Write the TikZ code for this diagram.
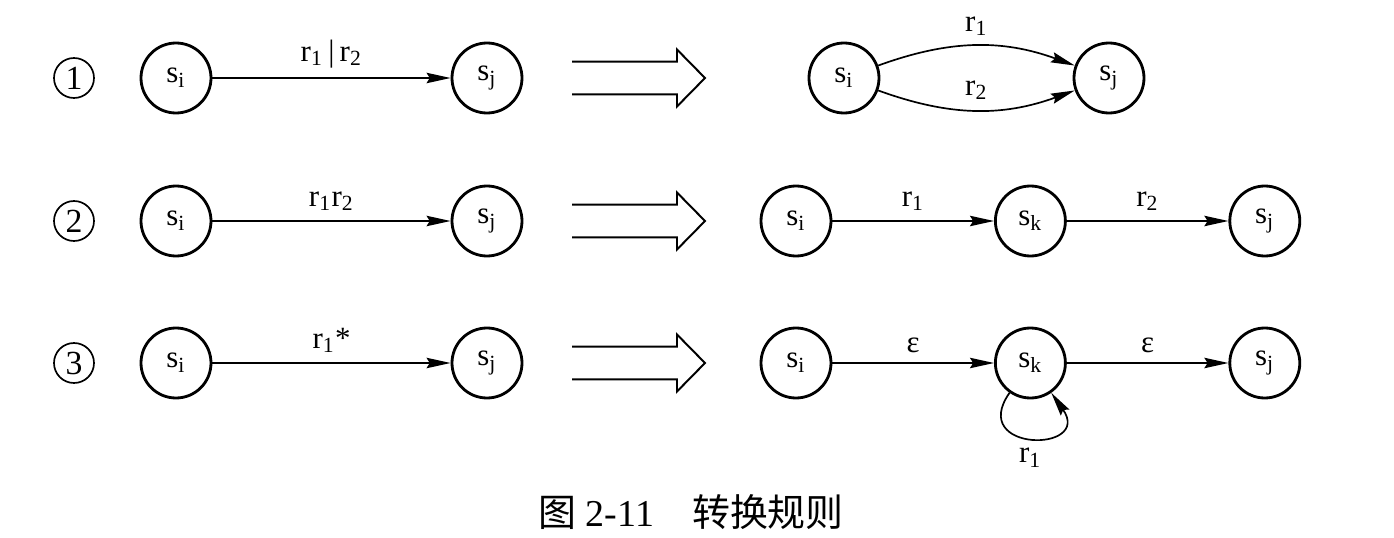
\documentclass[tikz,border=0pt]{standalone}
\usepackage{fontspec}
\setmainfont{Liberation Serif}
\newfontfamily\cjk{Noto Sans CJK SC}
\usetikzlibrary{automata,positioning,arrows.meta}

\begin{document}
\begin{tikzpicture}[->,>={Stealth[length=3mm,width=1.3mm,inset=0.4mm]},shorten >=0pt,auto,node distance=2.93cm,
  every state/.style={line width=1pt,minimum size=0.875cm,inner sep=0pt,font=\fontsize{11}{12}\selectfont},
  num/.style={circle,draw,line width=0.6pt,minimum size=0.5cm,inner sep=0pt,font=\fontsize{12}{12}\selectfont},
  every edge/.style={draw,line width=0.6pt,font=\fontsize{11}{12}\selectfont}]
  \useasboundingbox (0,0) rectangle (17.425,-6.725);

  % left column
  \node[num]   (n1) at (0.925,-0.975) {1};
  \node[num]   (n2) at (0.925,-2.7625) {2};
  \node[num]   (n3) at (0.925,-4.5375) {3};
  \node[state] (i1) [right of=n1,node distance=1.275cm] {s\textsubscript{i}};
  \node[state] (j1) [right of=i1,node distance=3.8875cm] {s\textsubscript{j}};
  \node[state] (i2) [right of=n2,node distance=1.275cm] {s\textsubscript{i}};
  \node[state] (j2) [right of=i2,node distance=3.8875cm] {s\textsubscript{j}};
  \node[state] (i3) [right of=n3,node distance=1.275cm] {s\textsubscript{i}};
  \node[state] (j3) [right of=i3,node distance=3.8875cm] {s\textsubscript{j}};

  % right column
  \node[state] (ri1) at (10.55,-0.975) {s\textsubscript{i}};
  \node[state] (rj1) [right of=ri1,node distance=3.3125cm] {s\textsubscript{j}};
  \node[state] (ri2) at (9.95,-2.7625) {s\textsubscript{i}};
  \node[state] (rk2) [right of=ri2] {s\textsubscript{k}};
  \node[state] (rj2) [right of=rk2] {s\textsubscript{j}};
  \node[state] (ri3) at (9.95,-4.5375) {s\textsubscript{i}};
  \node[state] (rk3) [right of=ri3] {s\textsubscript{k}};
  \node[state] (rj3) [right of=rk3] {s\textsubscript{j}};

  \path (i1) edge node {r\textsubscript{1}\,|\,r\textsubscript{2}} (j1)
        (i2) edge node {r\textsubscript{1}r\textsubscript{2}} (j2)
        (i3) edge node {r\textsubscript{1}*} (j3);

  \path (ri1) edge [out=20,in=160] node {r\textsubscript{1}} (rj1)
              edge [out=-20,in=-160] node {r\textsubscript{2}} (rj1)
        (ri2) edge node {r\textsubscript{1}} (rk2)
        (rk2) edge node {r\textsubscript{2}} (rj2)
        (ri3) edge node {ε} (rk3)
        (rk3) edge node {ε} (rj3)
              edge [out=235,in=305,looseness=4.5] node[below] {r\textsubscript{1}} (rk3);

  % hollow arrows
  \foreach \y in {-0.975,-2.7625,-4.5375}
    \draw[-,line width=0.7pt] (7.15,\y+0.206) -- (8.4625,\y+0.206) -- (8.4625,\y+0.356)
      -- (8.8125,\y) -- (8.4625,\y-0.356) -- (8.4625,\y-0.206) -- (7.15,\y-0.206);

  \node (cap) at (8.64,-6.4) {\fontsize{13.5}{15}\selectfont{\cjk 图} 2-11\quad{\cjk 转换规则}};
\end{tikzpicture}
\end{document}
